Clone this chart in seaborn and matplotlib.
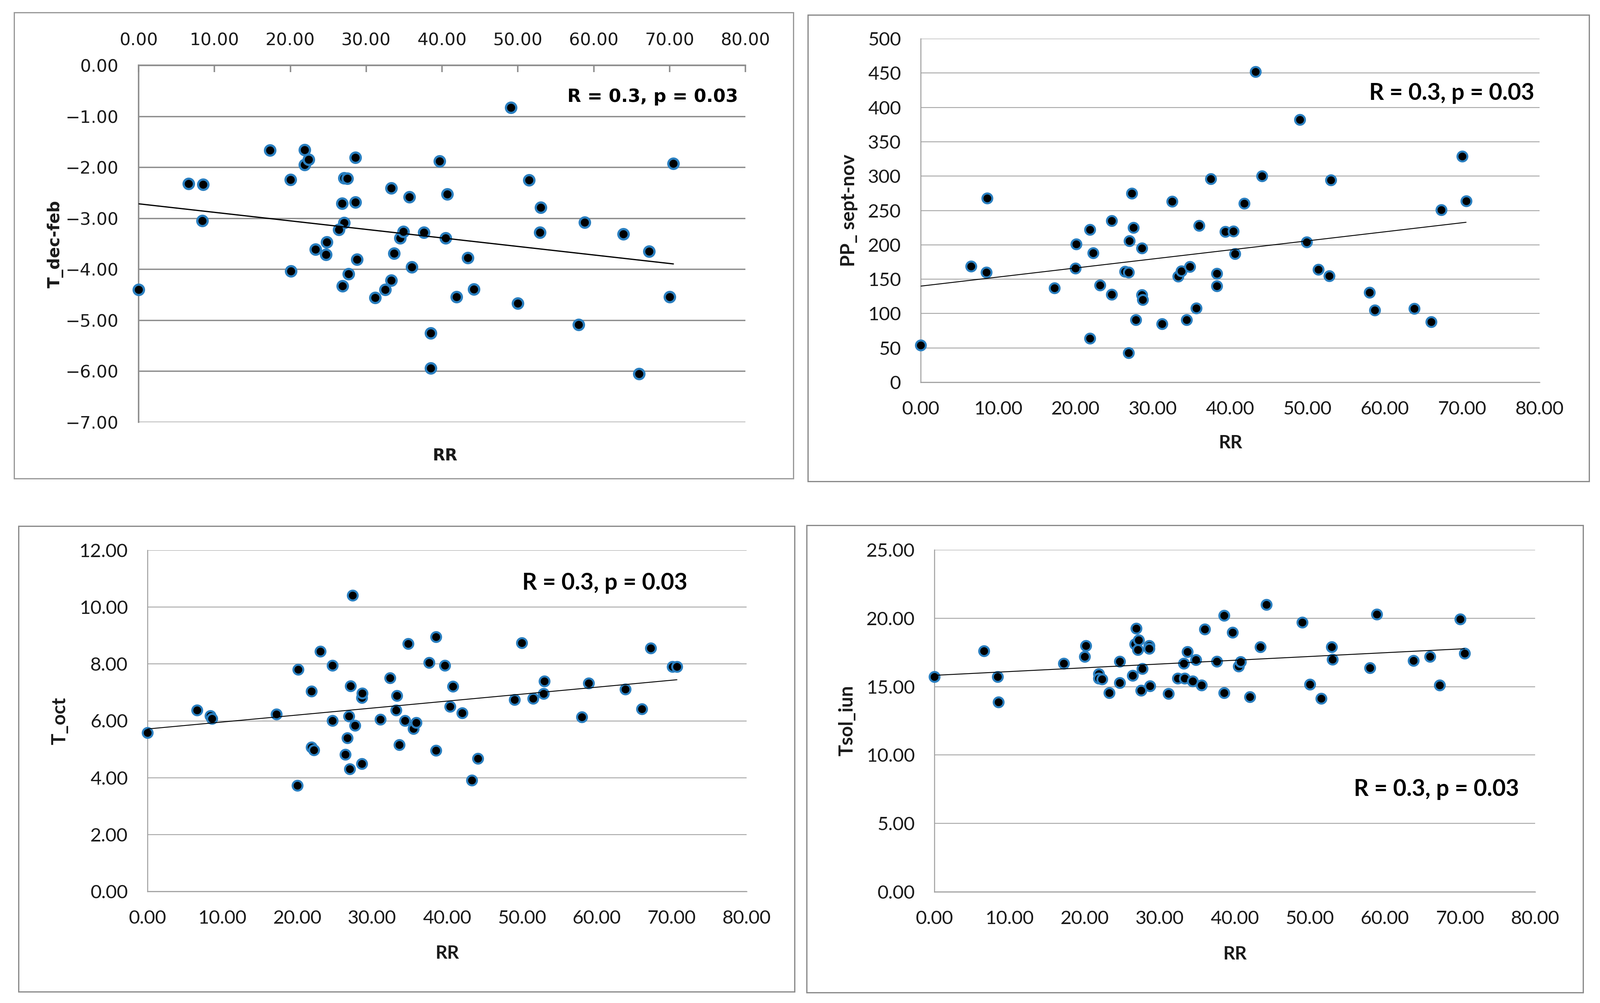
import numpy as np
import matplotlib
matplotlib.use("Agg")
import matplotlib.pyplot as plt
import seaborn as sns
from matplotlib.patches import Rectangle
from matplotlib.ticker import FuncFormatter

# ---------------- data ----------------
rr_dec_feb = [0.0, 6.6, 8.5, 8.4, 17.3, 20.0, 20.1, 21.9, 21.9, 22.4, 23.3, 24.8, 24.7,
              26.8, 27.1, 26.4, 26.9, 27.1, 27.5, 27.7, 28.6, 28.6, 28.8, 31.2, 32.5,
              33.3, 33.3, 33.7, 34.5, 34.9, 35.7, 36.0, 37.6, 38.5, 38.5, 39.7, 40.7,
              40.5, 41.9, 43.4, 44.2, 49.1, 50.0, 51.5, 53.0, 52.9, 58.8, 58.0, 63.9,
              66.0, 67.3, 70.0, 70.5]
t_dec_feb = [-4.40, -2.32, -2.34, -3.05, -1.67, -2.24, -4.04, -1.66, -1.95, -1.85, -3.61,
             -3.47, -3.71, -2.71, -3.09, -3.22, -4.33, -2.21, -2.22, -4.09, -1.81, -2.69,
             -3.81, -4.56, -4.40, -2.41, -4.22, -3.69, -3.39, -3.26, -2.58, -3.96, -3.28,
             -5.25, -5.94, -1.88, -2.53, -3.39, -4.54, -3.78, -4.39, -0.83, -4.67, -2.25,
             -2.79, -3.28, -3.08, -5.09, -3.31, -6.05, -3.65, -4.54, -1.93]

rr_sept_nov = [0.0, 6.5, 8.5, 8.6, 17.3, 20.1, 20.0, 21.9, 22.3, 21.9, 23.2, 24.7, 24.7,
               26.4, 27.0, 26.9, 27.3, 27.5, 27.8, 26.9, 28.6, 28.6, 28.7, 31.2, 32.5,
               33.3, 33.7, 34.4, 34.8, 35.6, 36.0, 37.5, 38.3, 38.3, 39.4, 40.4, 40.6,
               41.8, 43.3, 44.1, 49.0, 49.9, 51.4, 52.8, 53.0, 58.0, 58.7, 63.8, 66.0,
               67.3, 70.0, 70.5]
pp_sept_nov = [54, 169, 160, 268, 137, 201, 166, 222, 188, 64, 141, 235, 128,
               161, 206, 160, 275, 225, 91, 43, 195, 127, 120, 85, 263,
               154, 162, 91, 168, 108, 228, 296, 158, 140, 219, 220, 187,
               260, 452, 300, 382, 204, 164, 155, 294, 131, 105, 107, 88,
               251, 329, 264]

rr_oct = [0.0, 6.6, 8.4, 8.6, 17.2, 20.1, 20.0, 21.9, 21.9, 22.2, 23.1, 24.7, 24.7,
          26.4, 26.7, 26.9, 27.0, 27.1, 27.4, 27.7, 28.6, 28.7, 28.6, 31.1, 32.4,
          33.3, 33.2, 33.6, 34.4, 34.8, 35.5, 35.9, 37.6, 38.5, 38.5, 39.7, 40.8,
          40.4, 42.0, 43.3, 44.1, 49.0, 50.0, 51.5, 52.9, 53.0, 58.0, 58.9, 63.8,
          66.0, 67.2, 70.1, 70.7]
t_oct = [5.58, 6.38, 6.18, 6.08, 6.23, 7.80, 3.72, 7.04, 5.07, 4.97, 8.45, 7.95, 6.01,
         4.82, 5.40, 6.17, 4.30, 7.23, 10.42, 5.84, 6.81, 6.97, 4.49, 6.05, 7.51,
         6.89, 6.38, 5.15, 6.01, 8.71, 5.72, 5.94, 8.05, 8.95, 4.96, 7.95, 7.21,
         6.50, 6.27, 3.91, 4.68, 6.75, 8.74, 6.78, 6.96, 7.40, 6.13, 7.33, 7.11,
         6.42, 8.56, 7.91, 7.91]

rr_iun = [0.0, 6.6, 8.4, 8.55, 17.2, 20.0, 20.2, 21.9, 21.9, 22.3, 23.3, 24.7, 24.7,
          26.4, 26.7, 26.9, 27.2, 27.1, 27.7, 27.5, 28.6, 28.6, 28.7, 31.2, 32.4,
          33.3, 33.2, 33.7, 34.4, 34.8, 35.6, 36.0, 37.6, 38.6, 38.6, 39.7, 40.5,
          40.8, 42.0, 43.4, 44.2, 49.0, 50.0, 51.5, 52.9, 53.0, 58.0, 58.9, 63.8,
          66.0, 67.3, 70.0, 70.6]
tsol_iun = [15.71, 17.60, 15.71, 13.88, 16.70, 17.20, 18.00, 15.93, 15.60, 15.55, 14.56,
            16.85, 15.27, 15.80, 18.10, 19.27, 18.40, 17.70, 16.30, 14.72, 18.00, 17.80,
            15.05, 14.50, 15.60, 15.60, 16.70, 17.55, 15.40, 16.97, 15.10, 19.20, 16.85,
            20.20, 14.56, 18.97, 16.50, 16.80, 14.25, 17.90, 21.00, 19.70, 15.17, 14.12,
            17.90, 17.00, 16.37, 20.30, 16.90, 17.20, 15.10, 19.94, 17.43]

x_ticks = [0, 10, 20, 30, 40, 50, 60, 70, 80]
annot = "R = 0.3, p = 0.03"
x_name = "RR"

# ---------------- style ----------------
sns.set_style("white")
plt.rcParams['font.family'] = ['DejaVu Sans']

W, H = 3971, 2490
fig = plt.figure(figsize=(W / 100, H / 100), dpi=100)


def rect(l, t, r, b):
    return [l / W, 1 - b / H, (r - l) / W, (b - t) / H]


def fx(x):
    return x / W


def fy(y):
    return 1 - y / H


EDGE = '#2A7FC0'
TXT = '#1a1a1a'


def border(l, t, r, b, color):
    fig.add_artist(Rectangle((l / W, 1 - b / H), (r - l) / W, (b - t) / H,
                             transform=fig.transFigure, fill=False,
                             edgecolor=color, linewidth=2.2))


def draw(ax, x, y, s, ew, lw):
    sns.regplot(x=np.asarray(x, float), y=np.asarray(y, float), ax=ax, ci=None,
                truncate=True,
                scatter_kws=dict(s=s, color='black', edgecolor=EDGE, linewidths=ew,
                                 alpha=1, zorder=3, clip_on=False),
                line_kws=dict(color='black', linewidth=lw, zorder=4))
    ax.set_xlabel('')
    ax.set_ylabel('')


fmt2 = FuncFormatter(lambda v, _: f"{v:.2f}".replace("-", "\u2212"))
fmt0 = FuncFormatter(lambda v, _: f"{v:.0f}")

# borders
border(35, 31, 1969, 1188, '#9a9a9a')
border(2005, 37, 3944, 1195, '#8a8a8a')
border(46, 1306, 1972, 2462, '#8a8a8a')
border(2002, 1304, 3929, 2464, '#8a8a8a')

# ---------------- panel 1 ----------------
ax1 = fig.add_axes(rect(344, 162, 1850, 1048))
draw(ax1, rr_dec_feb, t_dec_feb, 340, 4.0, 2.2)
ax1.set_xlim(0, 80)
ax1.set_ylim(-7, 0)
ax1.set_xticks(x_ticks)
ax1.set_yticks(np.arange(-7, 0.5, 1))
ax1.xaxis.set_major_formatter(fmt2)
ax1.yaxis.set_major_formatter(fmt2)
ax1.xaxis.set_ticks_position('top')
ax1.yaxis.grid(True, color='#8c8c8c', linewidth=2.4)
ax1.set_axisbelow(True)
for sp in ['bottom', 'right']:
    ax1.spines[sp].set_visible(False)
for sp in ['top', 'left']:
    ax1.spines[sp].set_color('#8c8c8c')
    ax1.spines[sp].set_linewidth(2.6)
ax1.tick_params(axis='x', direction='in', length=12, width=2.6, color='#8c8c8c',
                pad=29, labelsize=31, labelcolor=TXT)
ax1.tick_params(axis='y', direction='out', length=12, width=2.4, color='#8c8c8c',
                pad=24, labelsize=31, labelcolor=TXT)
fig.text(fx(137), fy(606), "T_dec-feb", rotation=90, ha='center', va='center',
         fontsize=29, fontweight='bold', color=TXT)
fig.text(fx(1104), fy(1132), x_name, ha='center', va='center',
         fontsize=29, fontweight='bold', color=TXT)
fig.text(fx(1832), fy(240), annot, ha='right', va='center',
         fontsize=32, fontweight='bold', color='black')

# ---------------- panels 2-4 ----------------
LF = ['Lato', 'DejaVu Sans']


def style_lower(ax, ymax, ystep, yfmt):
    ax.set_xlim(0, 80)
    ax.set_ylim(0, ymax)
    ax.set_xticks(x_ticks)
    ax.set_yticks(np.arange(0, ymax + ystep / 2, ystep))
    ax.xaxis.set_major_formatter(fmt2)
    ax.yaxis.set_major_formatter(yfmt)
    ax.yaxis.grid(True, color='#a6a6a6', linewidth=1.6)
    ax.set_axisbelow(True)
    for sp in ['top', 'right']:
        ax.spines[sp].set_visible(False)
    for sp in ['bottom', 'left']:
        ax.spines[sp].set_color('#a0a0a0')
        ax.spines[sp].set_linewidth(1.8)
    ax.tick_params(axis='x', direction='out', length=12, width=1.8, color='#a0a0a0',
                   pad=21, labelsize=34, labelcolor=TXT)
    ax.tick_params(axis='y', direction='out', length=12, width=1.6, color='#a0a0a0',
                   pad=23, labelsize=34, labelcolor=TXT)
    for lab in ax.get_xticklabels() + ax.get_yticklabels():
        lab.set_fontfamily(LF)


ax2 = fig.add_axes(rect(2285, 96, 3821, 949))
draw(ax2, rr_sept_nov, pp_sept_nov, 310, 3.6, 1.6)
style_lower(ax2, 500, 50, fmt0)
fig.text(fx(2107), fy(522), "PP_ sept-nov", rotation=90, ha='center', va='center',
         fontsize=34, fontweight='bold', color=TXT, family=LF)
fig.text(fx(3054), fy(1100), x_name, ha='center', va='center',
         fontsize=33, fontweight='bold', color=TXT, family=LF)
fig.text(fx(3808), fy(231), annot, ha='right', va='center',
         fontsize=41, fontweight='bold', color='black', family=LF)

ax3 = fig.add_axes(rect(366, 1366, 1853, 2213))
draw(ax3, rr_oct, t_oct, 310, 3.6, 1.6)
style_lower(ax3, 12, 2, fmt2)
fig.text(fx(148), fy(1790), "T_oct", rotation=90, ha='center', va='center',
         fontsize=34, fontweight='bold', color=TXT, family=LF)
fig.text(fx(1110), fy(2367), x_name, ha='center', va='center',
         fontsize=33, fontweight='bold', color=TXT, family=LF)
fig.text(fx(1706), fy(1448), annot, ha='right', va='center',
         fontsize=41, fontweight='bold', color='black', family=LF)

ax4 = fig.add_axes(rect(2319, 1365, 3810, 2214))
draw(ax4, rr_iun, tsol_iun, 310, 3.6, 1.6)
style_lower(ax4, 25, 5, fmt2)
fig.text(fx(2102), fy(1789), "Tsol_iun", rotation=90, ha='center', va='center',
         fontsize=34, fontweight='bold', color=TXT, family=LF)
fig.text(fx(3065), fy(2369), x_name, ha='center', va='center',
         fontsize=33, fontweight='bold', color=TXT, family=LF)
fig.text(fx(3770), fy(1960), annot, ha='right', va='center',
         fontsize=41, fontweight='bold', color='black', family=LF)

fig.savefig("out.png", dpi=100, facecolor='white')
